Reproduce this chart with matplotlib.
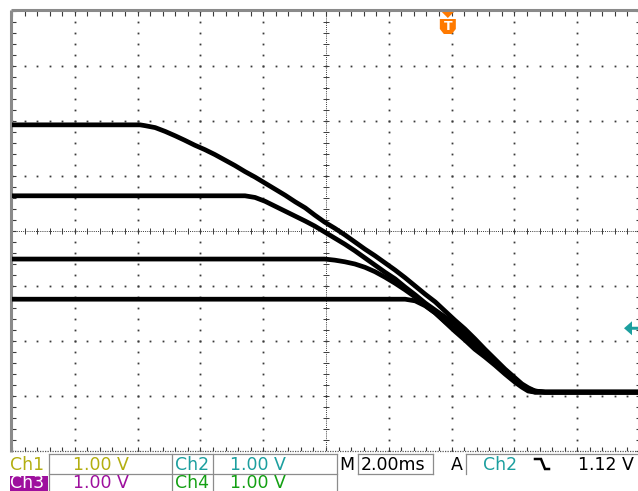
import matplotlib
matplotlib.use('Agg')
import matplotlib.pyplot as plt
import numpy as np
from matplotlib.patches import Polygon, Rectangle
from matplotlib.lines import Line2D

W, H = 638, 491

# ---------------- data (screen divisions: x 0..10 div @ 2 ms/div, y -4..4 div @ 1 V/div)
t1_x = [0, 2.04, 2.12, 2.28, 2.44, 2.60, 2.75, 2.91, 3.07, 3.23, 3.39, 3.55, 3.71, 3.87, 4.03,
        4.19, 4.35, 4.51, 4.67, 4.82, 4.98, 5.14, 5.30, 5.46, 5.62, 5.78, 5.94, 6.10, 6.26, 6.42,
        6.58, 6.74, 6.89, 7.05, 7.21, 7.37, 7.53, 7.69, 7.85, 8.01, 8.12, 8.22, 8.33, 8.49, 10.0]
t1_y = [1.93, 1.93, 1.915, 1.88, 1.81, 1.73, 1.65, 1.56, 1.48, 1.39, 1.29, 1.19, 1.08, 0.98, 0.87,
        0.76, 0.65, 0.53, 0.42, 0.29, 0.16, 0.05, -0.07, -0.20, -0.33, -0.45, -0.58, -0.71, -0.85, -1.00,
        -1.15, -1.29, -1.45, -1.62, -1.78, -1.96, -2.15, -2.33, -2.51, -2.67, -2.78, -2.85, -2.91, -2.93, -2.93]

t2_x = [0, 3.71, 3.87, 4.03, 4.19, 4.35, 4.51, 4.67, 4.82, 4.98, 5.14, 5.30, 5.46, 5.62, 5.78,
        5.94, 6.10, 6.26, 6.42, 6.58, 6.74, 6.89, 7.05, 7.21, 7.37, 7.53, 7.69, 7.85, 8.01, 8.12,
        8.22, 8.33, 8.49, 10.0]
t2_y = [0.64, 0.64, 0.61, 0.54, 0.45, 0.36, 0.27, 0.18, 0.09, -0.02, -0.13, -0.24, -0.36, -0.49, -0.62,
        -0.75, -0.87, -1.02, -1.16, -1.31, -1.44, -1.56, -1.69, -1.85, -2.02, -2.18, -2.36, -2.53, -2.69, -2.80,
        -2.87, -2.91, -2.93, -2.93]

t3_x = [0, 4.98, 5.14, 5.30, 5.46, 5.62, 5.78, 5.94, 6.10, 6.26, 6.42, 6.58, 6.74, 6.89, 7.05,
        7.21, 7.37, 7.53, 7.69, 7.85, 8.01, 8.12, 8.22, 8.33, 10.0]
t3_y = [-0.51, -0.51, -0.53, -0.56, -0.60, -0.66, -0.74, -0.84, -0.95, -1.07, -1.20, -1.35, -1.49, -1.64, -1.78,
        -1.93, -2.09, -2.24, -2.40, -2.56, -2.71, -2.82, -2.89, -2.93, -2.93]

t4_x = [0, 6.26, 6.42, 6.58, 6.74, 6.89, 7.05, 7.21, 7.37, 7.53, 7.69, 7.85, 8.01, 8.12, 8.22, 8.33, 10.0]
t4_y = [-1.24, -1.24, -1.27, -1.36, -1.49, -1.65, -1.82, -1.98, -2.15, -2.29, -2.44, -2.60, -2.75, -2.84,
        -2.91, -2.93, -2.93]

channel_labels = ['Ch1', 'Ch2', 'Ch3', 'Ch4']
channel_scales = ['1.00 V', '1.00 V', '1.00 V', '1.00 V']
timebase_label = '2.00ms'
trigger_source = 'Ch2'
trigger_level = '1.12 V'
trigger_pos_div = 6.94
trigger_level_div = -1.75

YEL = '#b3ae10'
TEAL = '#1c9f9f'
MAG = '#9e109e'
GRN = '#13a013'
ORANGE = '#ff7a00'
DOT = '#3a3a3a'
BORDER = '#8a8a8a'

fig = plt.figure(figsize=(W / 100, H / 100), dpi=100)
fig.patch.set_facecolor('white')

ax = fig.add_axes([12 / W, (H - 451) / H, 628 / W, 440 / H])
ax.set_xlim(0, 10)
ax.set_ylim(-4, 4)
ax.axis('off')

# ---------------- graticule
minor_x = np.arange(0, 10.001, 0.2)
minor_y = np.arange(-4, 4.001, 0.2)
for gx in range(1, 10):
    if gx == 5:
        continue
    ax.plot(np.full_like(minor_y, gx), minor_y, 's', ms=1.3, mew=0, color=DOT, zorder=1)
for gy in range(-3, 4):
    if gy == 0:
        continue
    ax.plot(minor_x, np.full_like(minor_x, gy), 's', ms=1.3, mew=0, color=DOT, zorder=1)

# centre lines with ticks
ax.plot([0, 10], [0, 0], color=DOT, lw=0.7, ls=(0, (1.0, 1.2)), zorder=1)
ax.plot([5, 5], [-4, 4], color=DOT, lw=0.7, ls=(0, (1.0, 1.2)), zorder=1)
ax.vlines(minor_x, -0.05, 0.05, color=DOT, lw=0.7, zorder=1)
ax.hlines(minor_y, 5 - 0.045, 5 + 0.045, color=DOT, lw=0.7, zorder=1)

# border ticks
ax.hlines(minor_y, 0, 0.07, color=DOT, lw=0.8, zorder=1)
ax.hlines(minor_y, 9.93, 10, color=DOT, lw=0.8, zorder=1, clip_on=False)
ax.vlines(minor_x, 4 - 0.09, 4, color=DOT, lw=0.8, zorder=1)
ax.vlines(minor_x, -4, -4 + 0.08, color=DOT, lw=0.8, zorder=1)
ax.plot([0, 10], [-4, -4], color='#555555', lw=0.9, ls=(0, (1.0, 1.0)), zorder=1, clip_on=False)

# borders (left/top)
ax.plot([-0.02, 10], [4.02, 4.02], color=BORDER, lw=2.2, clip_on=False, zorder=2, solid_capstyle='butt')
ax.plot([-0.02, -0.02], [-4.02, 4.02], color=BORDER, lw=2.2, clip_on=False, zorder=2, solid_capstyle='butt')

# ---------------- traces
for xs, ys in [(t1_x, t1_y), (t2_x, t2_y), (t3_x, t3_y), (t4_x, t4_y)]:
    ax.plot(xs, ys, color='black', lw=3.4, solid_joinstyle='round', solid_capstyle='butt', zorder=3)


def fx(x):
    return x / W


def fy(y):
    return 1 - y / H


# ---------------- trigger position marker (top)
tx_px = 12 + trigger_pos_div * 62.8
fig.add_artist(Polygon([(fx(tx_px - 6), fy(12)), (fx(tx_px + 6), fy(12)), (fx(tx_px), fy(18))],
                       closed=True, transform=fig.transFigure, color=ORANGE, lw=0))
fig.add_artist(Polygon([(fx(tx_px - 8), fy(19)), (fx(tx_px + 8), fy(19)), (fx(tx_px + 8), fy(29)),
                        (fx(tx_px + 4), fy(34)), (fx(tx_px - 4), fy(34)), (fx(tx_px - 8), fy(29))],
                       closed=True, transform=fig.transFigure, color=ORANGE, lw=0))
fig.text(fx(tx_px), fy(26.5), 'T', color='white', fontsize=9, fontweight='bold',
         ha='center', va='center', family='DejaVu Sans')

# ---------------- trigger level arrow (right)
ty_px = 232 - trigger_level_div * 55
fig.add_artist(Polygon([(fx(624), fy(ty_px)), (fx(632), fy(ty_px - 7)), (fx(632), fy(ty_px - 1.5)),
                        (fx(639), fy(ty_px - 1.5)), (fx(639), fy(ty_px + 1.5)), (fx(632), fy(ty_px + 1.5)),
                        (fx(632), fy(ty_px + 7))],
                       closed=True, transform=fig.transFigure, color=TEAL, lw=0))

# ---------------- status bar
BOXC = '#8c8c8c'


def hline(x0, x1, y):
    fig.add_artist(Line2D([fx(x0), fx(x1)], [fy(y), fy(y)], transform=fig.transFigure, color=BOXC, lw=0.9))


def vline(x, y0, y1):
    fig.add_artist(Line2D([fx(x), fx(x)], [fy(y0), fy(y1)], transform=fig.transFigure, color=BOXC, lw=0.9))


hline(49, 337, 454)
hline(49, 337, 474)
for vx in (49, 172, 213, 337):
    vline(vx, 454, 492)
# M box
hline(358, 433, 454)
hline(358, 433, 474)
vline(358, 454, 474)
vline(433, 454, 474)
# A box
hline(466, 640, 454)
vline(466, 454, 474)

fig.add_artist(Rectangle((fx(10), fy(491)), fx(38), 15 / H, transform=fig.transFigure, color=MAG, lw=0))

FS = 12.5
FAM = 'DejaVu Sans'
row1, row2 = 470, 488.5
texts = [
    (10, row1, channel_labels[0], YEL),
    (73, row1, channel_scales[0], YEL),
    (175, row1, channel_labels[1], TEAL),
    (230, row1, channel_scales[1], TEAL),
    (10, row2, channel_labels[2], 'white'),
    (73, row2, channel_scales[2], MAG),
    (175, row2, channel_labels[3], GRN),
    (230, row2, channel_scales[3], GRN),
    (339, row1, 'M', 'black'),
    (361, row1, timebase_label, 'black'),
    (451, row1, 'A', 'black'),
    (483, row1, trigger_source, TEAL),
    (578, row1, trigger_level, 'black'),
]
for x, y, s, c in texts:
    fig.text(fx(x), fy(y), s, color=c, fontsize=FS, family=FAM, ha='left', va='baseline')

# falling-edge symbol
fig.add_artist(Line2D([fx(535), fx(541), fx(545), fx(549)], [fy(459), fy(459), fy(469), fy(469)],
                      transform=fig.transFigure, color='black', lw=1.8, solid_joinstyle='miter'))

fig.savefig('out.png', dpi=100, facecolor='white')
